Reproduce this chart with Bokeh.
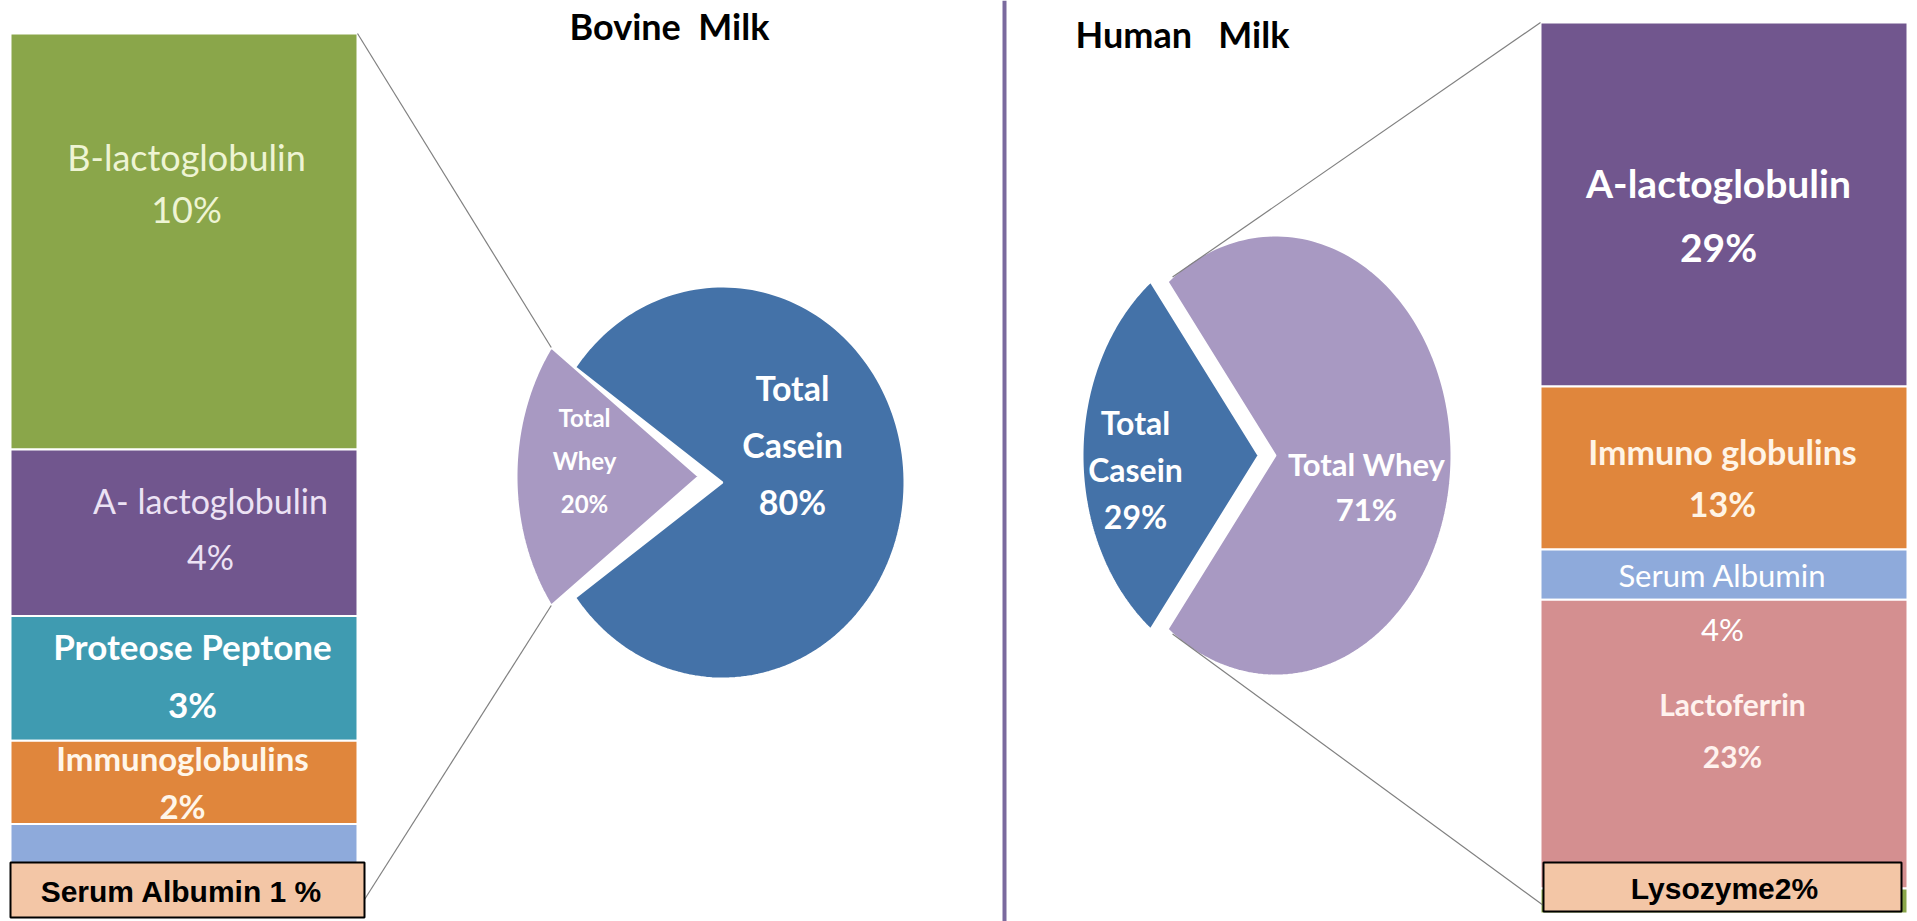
import numpy as np
from bokeh.plotting import figure
from bokeh.models import Range1d, ColumnDataSource
from bokeh.embed import file_html
from bokeh.resources import INLINE
from bokeh.core.properties import value

# ---------------- data ----------------
bovine_pie_labels = ["Total Casein", "Total Whey"]
bovine_pie_values = [80, 20]
human_pie_labels = ["Total Casein", "Total Whey"]
human_pie_values = [29, 71]

bovine_whey_names = ["B-lactoglobulin", "A- lactoglobulin", "Proteose Peptone", "Immunoglobulins", "Serum albumin"]
bovine_whey_values = [10, 4, 3, 2, 1]
human_whey_names = ["A-lactoglobulin", "Immuno globulins", "Serum Albumin", "Lactoferrin", "Lysozyme"]
human_whey_values = [29, 13, 4, 23, 2]

titles = ["Bovine\u00a0 Milk", "Human\u00a0\u00a0 Milk"]
callouts = ["Serum Albumin 1 %", "Lysozyme2%"]

# ---------------- style / layout ----------------
W, H = 1917, 921
FONT = "Lato"
CASEIN_C = "#4472a8"
WHEY_C = "#a899c2"
bov_colors = ["#8aa64a", "#71568e", "#3f9bb1", "#e0863c", "#8eaadb"]
hum_colors = ["#71568e", "#e0863c", "#8eaadb", "#d48f90", "#8aa64a"]
bov_text_col = ["#eef4d4", "#ece2f4", "#ffffff", "#fff6ea", "#ffffff"]
hum_text_col = ["#ffffff", "#fff4e6", "#ffffff", "#fff2ee", "#ffffff"]
bov_text_w = ["normal", "normal", "bold", "bold", "normal"]
hum_text_w = ["bold", "bold", "normal", "bold", "normal"]
bov_fs = [36, 34, 35, 33, 20]
hum_fs = [39, 34, 31, 30, 20]
bov_gap = [26, 28, 29, 24, 0]
hum_gap = [32, 26, 27, 26, 0]
bov_label_dy = [-59, -4, -3, 0, 0]
hum_label_dy = [11, 9, 27, -14, 0]
bov_label_dx = [0, 24, 6, -4, 0]
hum_label_dx = [-4, 0, 0, 10, 0]

p = figure(width=W, height=H, x_range=Range1d(0, W), y_range=Range1d(H, 0),
           output_backend="svg", toolbar_location=None, min_border=0,
           x_axis_location=None, y_axis_location=None)
p.grid.visible = False
p.outline_line_color = None
p.background_fill_color = "white"
p.border_fill_color = "white"


def ellipse_wedge(cx, cy, rx, ry, a0, a1, n=160):
    t = np.radians(np.linspace(a0, a1, n))
    xs = np.concatenate([[cx], cx + rx * np.cos(t), [cx]])
    ys = np.concatenate([[cy], cy - ry * np.sin(t), [cy]])
    return list(xs), list(ys)


def pie(values, exploded_idx, cx, cy, rx, ry, ex_off, other_off, colors, ex_scale=1.0):
    """exploded slice is centred at 180 deg; returns its outer corner points."""
    total = float(sum(values))
    spans = [v / total * 360.0 for v in values]
    e = spans[exploded_idx]
    o = 1 - exploded_idx
    ecx, ecy = cx + ex_off[0], cy + ex_off[1]
    ocx, ocy = cx + other_off[0], cy + other_off[1]
    ex, ey = ellipse_wedge(ecx, ecy, rx, ry * ex_scale, 180 - e / 2, 180 + e / 2)
    ox, oy = ellipse_wedge(ocx, ocy, rx, ry, 180 + e / 2, 180 - e / 2 + 360)
    res = {exploded_idx: (ex, ey), o: (ox, oy)}
    p.patches([res[0][0], res[1][0]], [res[0][1], res[1][1]],
              fill_color=colors, line_color="white", line_width=2)
    return e, (ecx, ecy), (ocx, ocy)


# ---------------- bovine pie ----------------
bcx, bcy, brx, bry, bsc = 722, 482, 182, 196, 1.12
e_b, bwc, _ = pie(bovine_pie_values, 1, bcx, bcy, brx, bry, (-24, -6), (0, 0),
                  [CASEIN_C, WHEY_C], bsc)
a_top = np.radians(180 - e_b / 2)
a_bot = np.radians(180 + e_b / 2)
bw_top = (bwc[0] + brx * np.cos(a_top), bwc[1] - bry * bsc * np.sin(a_top))
bw_bot = (bwc[0] + brx * np.cos(a_bot), bwc[1] - bry * bsc * np.sin(a_bot))

# ---------------- human pie ----------------
hcx, hcy, hrx, hry = 1266, 455, 176, 220
e_h, _, hwc = pie(human_pie_values, 0, hcx, hcy, hrx, hry, (-8, 0), (9, 0),
                  [CASEIN_C, WHEY_C])
h_top_a = np.radians(180 - e_h / 2 - 2)
h_bot_a = np.radians(180 + e_h / 2 + 2)
hw_top = (hwc[0] + hrx * np.cos(h_top_a), hwc[1] - hry * np.sin(h_top_a))
hw_bot = (hwc[0] + hrx * np.cos(h_bot_a), hwc[1] - hry * np.sin(h_bot_a))

# ---------------- stacked bars ----------------
def stacked_bar(values, x0, x1, y0, px_per, colors):
    cum = np.concatenate([[0], np.cumsum(values)])
    tops = list(y0 + cum[:-1] * px_per)
    bots = list(y0 + cum[1:] * px_per)
    src = ColumnDataSource(dict(left=[x0] * len(values), right=[x1] * len(values),
                                top=tops, bottom=bots, color=colors))
    p.quad(left="left", right="right", top="top", bottom="bottom", fill_color="color",
           line_color="white", line_width=2, source=src)
    return tops, bots

bx0, bx1, by0 = 10, 357, 33
b_px = (865 - by0) / sum(bovine_whey_values)
b_tops, b_bots = stacked_bar(bovine_whey_values, bx0, bx1, by0, b_px, bov_colors)

hx0, hx1, hy0 = 1540, 1907, 22
h_px = (913 - hy0) / sum(human_whey_values)
h_tops, h_bots = stacked_bar(human_whey_values, hx0, hx1, hy0, h_px, hum_colors)

# callout boxes geometry
box_left = [bx0, hx0 + 3]
box_right = [bx1 + 7, hx1 - 6]
box_top = [862, 862]
box_bottom = [917, 911]

# ---------------- connector lines ----------------
p.segment(x0=[bx1, box_right[0]], y0=[b_tops[0], box_bottom[0] - 18],
          x1=[bw_top[0], bw_bot[0]], y1=[bw_top[1], bw_bot[1]],
          line_color="#808080", line_width=1.2)
p.segment(x0=[hx0, box_left[1]], y0=[h_tops[0], box_bottom[1] - 6],
          x1=[hw_top[0], hw_bot[0]], y1=[hw_top[1], hw_bot[1]],
          line_color="#808080", line_width=1.2)

# ---------------- bar labels ----------------
def bar_labels(names, values, tops, bots, xc, cols, weights, sizes, gaps, dys, dxs, skip_last=True):
    n = len(names) - (1 if skip_last else 0)
    for i in range(n):
        yc = (tops[i] + bots[i]) / 2 + dys[i]
        x = xc + dxs[i]
        p.text(x=[x, x], y=[yc - gaps[i], yc + gaps[i]], text=[names[i], f"{values[i]}%"],
               text_align="center", text_baseline="middle",
               text_font=value(FONT), text_font_size=f"{sizes[i]}px",
               text_font_style=weights[i], text_color=cols[i])

bar_labels(bovine_whey_names, bovine_whey_values, b_tops, b_bots, 186,
           bov_text_col, bov_text_w, bov_fs, bov_gap, bov_label_dy, bov_label_dx)
bar_labels(human_whey_names, human_whey_values, h_tops, h_bots, 1722,
           hum_text_col, hum_text_w, hum_fs, hum_gap, hum_label_dy, hum_label_dx)

# ---------------- pie labels ----------------
def pie_label(lines, x, yc, size, spacing, weight="bold"):
    n = len(lines)
    ys = [yc + (k - (n - 1) / 2) * spacing for k in range(n)]
    p.text(x=[x] * n, y=ys, text=lines, text_align="center", text_baseline="middle",
           text_font=value(FONT), text_font_size=f"{size}px", text_font_style=weight,
           text_color="white")

pie_label(bovine_pie_labels[0].split(" ") + [f"{bovine_pie_values[0]}%"], 792, 444, 34, 57)
pie_label(bovine_pie_labels[1].split(" ") + [f"{bovine_pie_values[1]}%"], 584, 460, 24, 43)
pie_label(human_pie_labels[0].split(" ") + [f"{human_pie_values[0]}%"], 1135, 469, 32, 47)
pie_label([human_pie_labels[1], f"{human_pie_values[1]}%"], 1366, 486, 31, 45)

# ---------------- titles ----------------
p.text(x=[669, 1182], y=[25, 33], text=titles, text_align="center", text_baseline="middle",
       text_font=value(FONT), text_font_size="36px", text_font_style="bold", text_color="black")

# ---------------- divider ----------------
p.segment(x0=[1004], y0=[0], x1=[1004], y1=[H], line_color="#7a6a9e", line_width=4)

# ---------------- callout boxes ----------------
p.quad(left=box_left, right=box_right, top=box_top, bottom=box_bottom,
       fill_color="#f3c6a6", line_color="black", line_width=2)
p.text(x=[181, 1724], y=[891, 888], text=callouts, text_align="center", text_baseline="middle",
       text_font=value("Liberation Sans"), text_font_size="30px", text_font_style="bold",
       text_color="black")

open("out.html", "w").write(file_html(p, INLINE))
